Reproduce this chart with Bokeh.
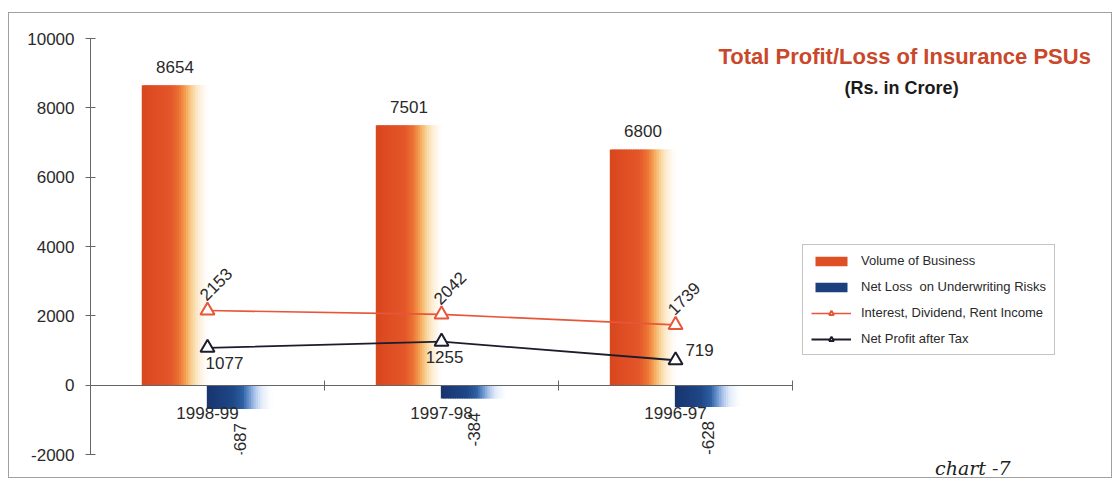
import numpy as np
from bokeh.plotting import figure
from bokeh.models import (Range1d, FixedTicker, Legend, LegendItem, Label, ColumnDataSource, Title)
from bokeh.core.properties import value
from bokeh.embed import file_html
from bokeh.resources import INLINE

# ---------------- data ----------------
categories = ["1998-99", "1997-98", "1996-97"]
volume_of_business = [8654, 7501, 6800]
net_loss_underwriting = [-687, -384, -628]
interest_dividend_rent = [2153, 2042, 1739]
net_profit_after_tax = [1077, 1255, 719]
y_ticks = [-2000, 0, 2000, 4000, 6000, 8000, 10000]
series_names = ["Volume of Business", "Net Loss  on Underwriting Risks",
                "Interest, Dividend, Rent Income", "Net Profit after Tax"]
title_text = "Total Profit/Loss of Insurance PSUs"
subtitle_text = "(Rs. in Crore)"
note_text = "chart -7"

# ---------------- styles ----------------
FONT = "Liberation Sans"
ORANGE_STOPS = [(0.0, "#d9461f"), (0.45, "#e4572a"), (0.58, "#ec7434"), (0.68, "#f4a657"),
                (0.77, "#f9d194"), (0.86, "#fdebd0"), (1.0, "#ffffff")]
BLUE_STOPS = [(0.0, "#183470"), (0.4, "#1f4786"), (0.55, "#2d5fa2"), (0.65, "#6b95cf"),
              (0.75, "#b4cbee"), (0.85, "#e6eefa"), (1.0, "#ffffff")]
LINE_ORANGE = "#e8563a"
LINE_DARK = "#1c1c2e"
TEXT = "#2a2a2a"
BAR_W = 0.278
N_STRIPS = 28
EXTRA_RIGHT = 1.35   # room (in category widths) for the title and legend


def hex2rgb(h):
    h = h.lstrip("#")
    return [int(h[i:i + 2], 16) for i in (0, 2, 4)]


def grad(stops, t):
    for (t0, c0), (t1, c1) in zip(stops[:-1], stops[1:]):
        if t0 <= t <= t1:
            f = (t - t0) / (t1 - t0) if t1 > t0 else 0
            a, b = hex2rgb(c0), hex2rgb(c1)
            return "#%02x%02x%02x" % tuple(int(round(a[k] + (b[k] - a[k]) * f)) for k in range(3))
    return stops[-1][1]


n = len(categories)
xc = np.arange(n) + 0.5

p = figure(width=1104, height=466, output_backend="svg", toolbar_location=None,
           x_range=Range1d(0, n + EXTRA_RIGHT), y_range=Range1d(y_ticks[0], y_ticks[-1]),
           min_border_left=81, min_border_right=5, min_border_top=25, min_border_bottom=25)
p.styles = {"margin-left": "8px", "margin-top": "12px", "border": "1px solid #a0a0a0"}
p.outline_line_color = None
p.xgrid.visible = False
p.ygrid.visible = False
p.background_fill_color = "white"
p.border_fill_color = "white"

# ---- y axis
ya = p.yaxis[0]
ya.ticker = FixedTicker(ticks=y_ticks)
ya.major_label_overrides = {t: str(t) for t in y_ticks}
ya.axis_line_color = "#666666"
ya.major_tick_line_color = "#666666"
ya.major_tick_in = 5
ya.major_tick_out = 5
ya.minor_tick_line_color = None
ya.major_label_standoff = 11
ya.major_label_text_font = FONT
ya.major_label_text_font_size = "17px"
ya.major_label_text_color = TEXT

# ---- x axis at y = 0, only across the categories
xa = p.xaxis[0]
xa.fixed_location = 0
xa.bounds = (0, n)
xa.ticker = FixedTicker(ticks=list(xc), minor_ticks=list(range(1, n + 1)))
xa.major_label_overrides = {float(x): c for x, c in zip(xc, categories)}
xa.axis_line_color = "#666666"
xa.major_tick_line_color = None
xa.major_tick_in = 0
xa.major_tick_out = 0
xa.minor_tick_line_color = "#666666"
xa.minor_tick_in = 5
xa.minor_tick_out = 5
xa.major_label_standoff = 17
xa.major_label_text_font = FONT
xa.major_label_text_font_size = "17px"
xa.major_label_text_color = TEXT

# ---- gradient bars (strips)
def gradient_bars(values, centre_shift, stops):
    rends = []
    left = xc + centre_shift - BAR_W / 2
    sw = BAR_W / N_STRIPS
    for i in range(N_STRIPS):
        t = (i + 0.5) / N_STRIPS
        r = p.vbar(x=left + (i + 0.5) * sw, width=sw * 1.6, top=values, bottom=0,
                   fill_color=grad(stops, t), line_color=None)
        rends.append(r)
    return rends

orange_r = gradient_bars(volume_of_business, -BAR_W / 2, ORANGE_STOPS)
blue_r = gradient_bars(net_loss_underwriting, BAR_W / 2, BLUE_STOPS)

# ---- lines
l1 = p.line(xc, interest_dividend_rent, line_color=LINE_ORANGE, line_width=1.6)
s1 = p.scatter(xc, interest_dividend_rent, marker="triangle", size=14, fill_color="white",
               line_color=LINE_ORANGE, line_width=2)
l2 = p.line(xc, net_profit_after_tax, line_color=LINE_DARK, line_width=1.8)
s2 = p.scatter(xc, net_profit_after_tax, marker="triangle", size=14, fill_color="white",
               line_color=LINE_DARK, line_width=2)

# ---- value labels
p.text(x=xc - BAR_W / 2, y=volume_of_business, text=[str(v) for v in volume_of_business],
       text_align="center", text_baseline="bottom", y_offset=-12,
       text_font=value(FONT), text_font_size="17px", text_color=TEXT)
p.text(x=xc + BAR_W / 2, y=net_loss_underwriting, text=[str(v) for v in net_loss_underwriting],
       angle=np.pi / 2, text_align="right", text_baseline="middle", y_offset=14,
       text_font=value(FONT), text_font_size="17px", text_color=TEXT)
p.text(x=xc, y=interest_dividend_rent, text=[str(v) for v in interest_dividend_rent],
       angle=np.pi / 4, text_align="left", text_baseline="middle", x_offset=-5, y_offset=-13,
       text_font=value(FONT), text_font_size="17px", text_color=TEXT)
npat_src = ColumnDataSource(dict(x=xc, y=net_profit_after_tax,
                                 t=[str(v) for v in net_profit_after_tax],
                                 dx=[17, 3, 24], dy=[15, 15, -10]))
p.text(x="x", y="y", text="t", source=npat_src, x_offset="dx", y_offset="dy",
       text_align="center", text_baseline="middle",
       text_font=value(FONT), text_font_size="17px", text_color=TEXT)

# ---- title, subtitle
p.add_layout(Label(x=3.479, y=9490, text=title_text, text_font=FONT, text_font_size="22px",
                   text_font_style="bold", text_color="#c9482a", text_align="center",
                   text_baseline="alphabetic"))
p.add_layout(Label(x=3.466, y=8560, text=subtitle_text, text_font=FONT, text_font_size="18px",
                   text_font_style="bold", text_color="#1a1a1a", text_align="center",
                   text_baseline="alphabetic"))

# ---- hand-written note under the chart
note = Title(text=note_text, align="right", offset=98, standoff=0,
             text_font="DejaVu Serif", text_font_size="19px", text_font_style="italic",
             text_color="#222222")
p.add_layout(note, "below")

# ---- legend
legend = Legend(items=[
    LegendItem(label=series_names[0], renderers=[orange_r[6]]),
    LegendItem(label=series_names[1], renderers=[blue_r[6]]),
    LegendItem(label=series_names[2], renderers=[l1, s1]),
    LegendItem(label=series_names[3], renderers=[l2, s2]),
], location=(712, 99))
legend.border_line_color = "#8a8a8a"
legend.border_line_width = 1
legend.background_fill_color = "white"
legend.label_text_font = FONT
legend.label_text_font_size = "13px"
legend.label_text_color = TEXT
legend.glyph_width = 40
legend.glyph_height = 12
legend.label_height = 14
legend.label_standoff = 10
legend.spacing = 11
legend.padding = 8
legend.margin = 0
p.add_layout(legend, "center")

open("out.html", "w").write(file_html(p, INLINE))
